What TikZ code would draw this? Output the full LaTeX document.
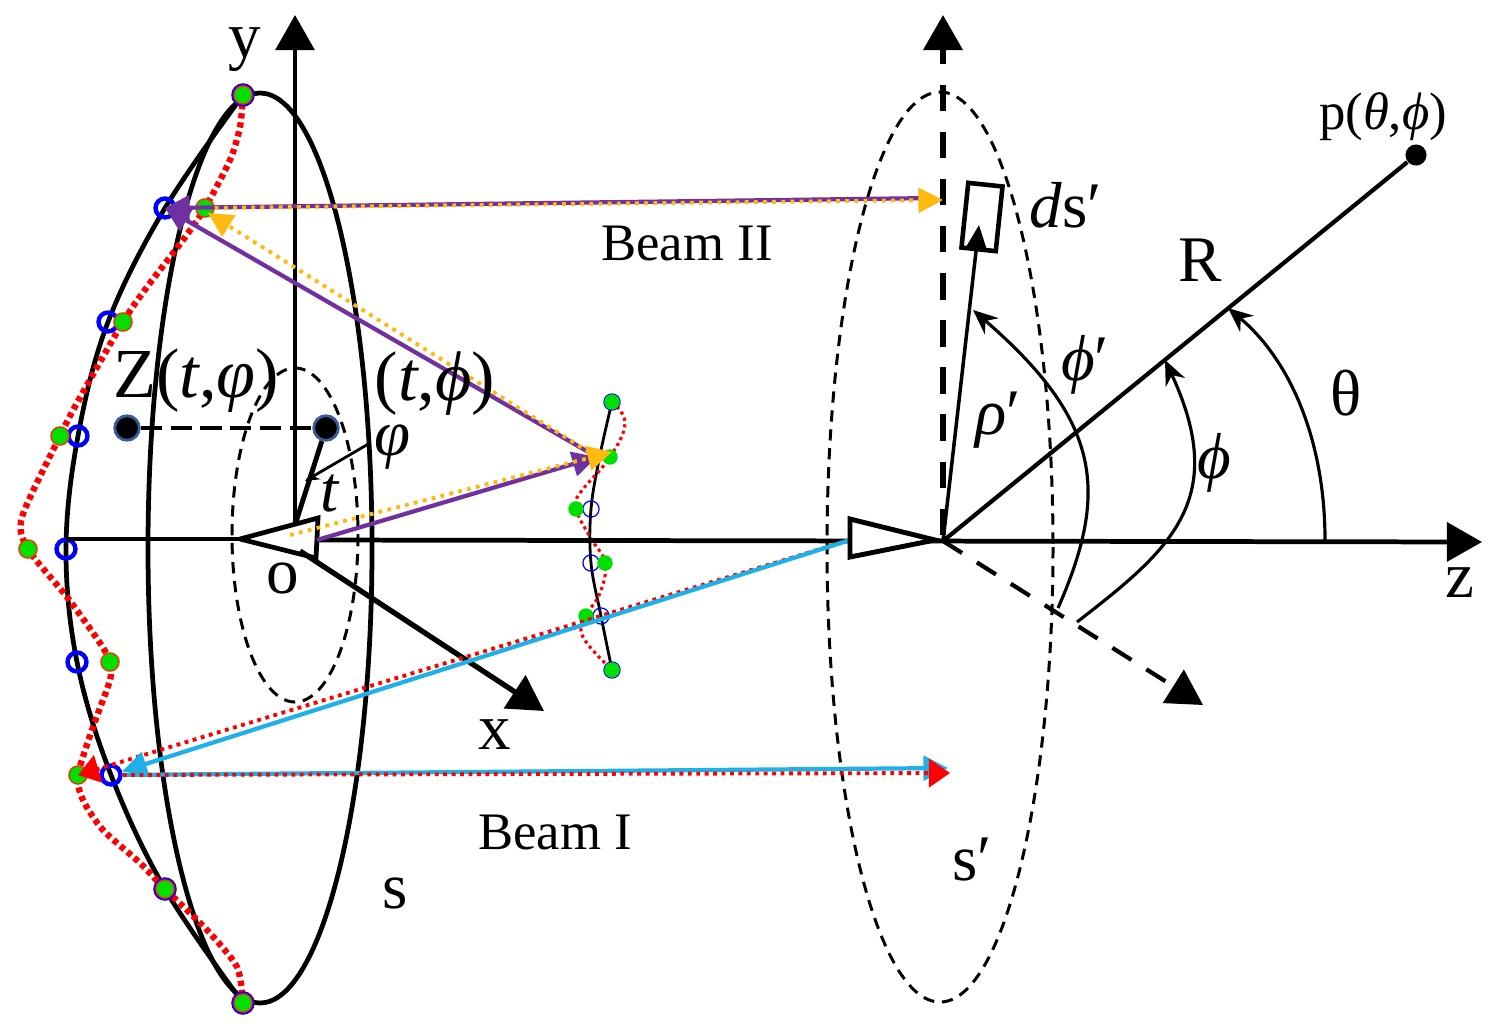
\documentclass[tikz,border=0pt]{standalone}
\usepackage{fontspec}
\setmainfont{Liberation Serif}
\usetikzlibrary{arrows.meta,backgrounds}
\definecolor{beampurple}{HTML}{7030A0}
\definecolor{beamorange}{HTML}{FFB90F}
\definecolor{beamcyan}{HTML}{1FB0E8}
\definecolor{dotgreen}{HTML}{00E000}
\definecolor{dotring}{HTML}{3A5A9A}
\tikzset{
  greendot/.style={circle,inner sep=0pt,minimum size=5.2pt,fill=dotgreen,draw=red!70!orange,line width=0.35pt},
  subgreen/.style={circle,inner sep=0pt,minimum size=4.4pt,fill=dotgreen},
  bluering/.style={circle,inner sep=0pt,minimum size=5.4pt,draw=blue,line width=1.25pt},
  subring/.style={circle,inner sep=0pt,minimum size=4.6pt,draw=blue,line width=0.35pt},
  rimring/.style={circle,inner sep=0pt,minimum size=6pt,draw=blue!80!purple,line width=0.7pt},
  blackdot/.style={circle,inner sep=0pt,minimum size=7pt,fill=black,draw=dotring,line width=0.8pt},
  thick line/.style={line width=1.35pt},
  redcurve/.style={red,line width=1.8pt,dash pattern=on 1.5pt off 1.1pt},
  subcurve/.style={red,line width=0.9pt,dash pattern=on 0.9pt off 1pt},
  bigtip/.style={-{Triangle[length=10pt,width=11pt]}},
  purplebeam/.style={beampurple,line width=1.2pt,-{Triangle[length=7pt,width=7pt]}},
  orangebeam/.style={beamorange,line width=1.1pt,dash pattern=on 1.1pt off 1.5pt,-{Triangle[length=7pt,width=7pt]}},
  cyanbeam/.style={beamcyan,line width=1.2pt,-{Triangle[length=7pt,width=7pt]}},
  redbeam/.style={red,line width=1.1pt,dash pattern=on 1.1pt off 1.3pt,-{Triangle[length=6pt,width=8pt]}},
  label/.style={inner sep=0pt,font=\fontsize{15}{18}\selectfont},
  biglabel/.style={inner sep=0pt,font=\fontsize{18.5}{22}\selectfont},
  hugelabel/.style={inner sep=0pt,font=\fontsize{20}{24}\selectfont},
}
\begin{document}
\begin{tikzpicture}[x=0.1mm,y=-0.1mm]
  \useasboundingbox (0,0) rectangle (1500,1029);
  % points of the dish and the feed curve
  \draw
    (243,95) node[rimring] (r0){}
    (165,889) node[rimring] (r7){}
    (243,1003) node[rimring] (r8){}
    (165,208) node[bluering] (b1){}
    (108,322) node[bluering] (b2){}
    (78,436) node[bluering] (b3){}
    (66,549) node[bluering] (b4){}
    (77,662) node[bluering] (b5){}
    (111,775) node[bluering] (b6){}
    (243,95) node[greendot] (g0){}
    (205,208) node[greendot] (g1){}
    (123,322) node[greendot] (g2){}
    (60,436) node[greendot] (g3){}
    (28,549) node[greendot] (g4){}
    (110,662) node[greendot] (g5){}
    (78,775) node[greendot] (g6){}
    (165,889) node[greendot] (g7){}
    (243,1003) node[greendot] (g8){};
  % points of the small reflector
  \draw
    (591,509) node[subring] (c1){}
    (591,563) node[subring] (c2){}
    (601,616) node[subring] (c3){}
    (612,402) node[subring] (c0){}
    (612,670) node[subring] (c4){}
    (612,402) node[subgreen] (s0){}
    (610,457) node[subgreen] (s1){}
    (576,509) node[subgreen] (s2){}
    (605,563) node[subgreen] (s3){}
    (586,616) node[subgreen] (s4){}
    (612,670) node[subgreen] (s5){};
  % named free ends
  \coordinate (ytop) at (295,15);
  \coordinate (ybase) at (295,525);
  \coordinate (zend) at (1482,542);
  \coordinate (zstart) at (66,539);
  \coordinate (xstart) at (300,551);
  \coordinate (xend) at (544,711);
  \coordinate (orig) at (943,541);
  \coordinate (ytwo) at (943,15);
  \coordinate (xtwo) at (1203,705);
  \coordinate (hornin) at (317,540);
  \coordinate (hornapex) at (240,539);
  \coordinate (horntop) at (318,518);
  \coordinate (hornlow) at (316,558);
  \coordinate (twoapex) at (935,540);
  \coordinate (twotop) at (850,519);
  \coordinate (twolow) at (850,557);
  \coordinate (fone) at (597,457);
  \coordinate (fzero) at (290,535);
  \coordinate (ftwo) at (612,452);
  \coordinate (ptwo) at (935,198);
  \coordinate (otwo) at (943,200);
  \coordinate (gtip) at (208,213);
  \coordinate (bone) at (850,540);
  \coordinate (cyanend) at (948,768);
  \coordinate (redend) at (950,773);
  \coordinate (rhoend) at (979,225);
  \begin{scope}[on background layer]
    \draw[thick line] (260,548) ellipse [x radius=112,y radius=455];
    \draw[line width=0.85pt,dash pattern=on 3.2pt off 2.2pt] (295,535) ellipse [x radius=63,y radius=167];
    \draw[line width=0.85pt,dash pattern=on 3.2pt off 2.2pt] (940,547) ellipse [x radius=113,y radius=455];
    \draw[thick line] plot[smooth,tension=0.6] coordinates {(r0) (b1) (b2) (b3) (b4) (b5) (b6) (r7) (r8)};
    \draw[redcurve] plot[smooth,tension=0.45] coordinates {(g0) (240,127) (230,160) (g1) (183,240) (147,287) (g2) (77,403) (g3) (22,517) (g4) (67,597) (100,643) (g5) (110,680) (93,727) (g6) (83,800) (103,830) (140,863) (g7) (207,930) (237,967) (g8)};
    \draw[line width=0.8pt] plot[smooth,tension=0.6] coordinates {(c0) (600,455) (c1) (c2) (c3) (c4)};
    \draw[subcurve] plot[smooth,tension=0.7] coordinates {(s0) (625,423) (s1) (580,493) (s2) (590,537) (s3) (600,593) (s4) (583,637) (s5)};
  \end{scope}
  \draw[bigtip,line width=1.35pt] (ybase) to (ytop);
  \draw[thick line] (zstart) to (hornapex);
  \draw[bigtip,thick line] (hornin) to (zend);
  \draw[bigtip,line width=1.5pt] (xstart) to (xend);
  \draw[thick line] (hornapex) to (horntop) to (hornlow) to (hornapex);
  \draw[bigtip,line width=1.6pt,dash pattern=on 7.5pt off 5.9pt,dash phase=11.7pt] (orig) to (ytwo);
  \draw[bigtip,line width=1.2pt,dash pattern=on 6.4pt off 5pt] (orig) to (xtwo);
  % beam II
  \draw[purplebeam] (ptwo) to (b1.center);
  \draw[purplebeam] (fone) to (b1.center);
  \draw[orangebeam] (fone) to (gtip);
  \draw[orangebeam] (g1) to (otwo);
  \draw[purplebeam] (hornin) to (fone);
  \draw[orangebeam] (fzero) to (ftwo);
  % beam I
  \draw[redbeam] (bone) to (g6.center);
  \draw[cyanbeam] (bone) to (b6);
  \draw[cyanbeam] (b6) to (cyanend);
  \draw[redbeam] (b6) to (redend);
  % second feed
  \draw[line width=1.4pt,fill=white] (twoapex) to (twotop) to (twolow) to cycle;
  % local point and surface patch
  \draw (127,428) node[blackdot] (zp){}
    (326,428) node[blackdot] (tp){}
    (1416,155) node[circle,inner sep=0pt,minimum size=6pt,fill=black] (pp){};
  \draw[line width=1.3pt,dash pattern=on 6pt off 2.5pt] (zp) to (tp);
  \draw[line width=1.4pt] (tp) to (ybase);
  \draw[line width=0.8pt,-{Stealth[length=4pt,width=3.5pt]}] (370,443) to (305,481);
  \draw[line width=1.2pt] (orig) to (pp);
  \draw (982,217) node[draw,rotate=-6,line width=1.3pt,minimum width=9.8pt,minimum height=18.5pt,inner sep=0pt] (patch){};
  \draw[line width=1pt,-{Triangle[length=7pt,width=6pt]}] (orig) to (rhoend);
  % angle arcs
  \draw[line width=0.9pt,-{Stealth[length=7pt,width=6pt]}] (1325,540) .. controls (1325,440) and (1290,360) .. (1228,308);
  \draw[line width=0.9pt,-{Stealth[length=7pt,width=6pt]}] (1077,622) .. controls (1170,550) and (1230,500) .. (1165,360);
  \draw[line width=0.9pt,-{Stealth[length=7pt,width=6pt]}] (1058,608) .. controls (1110,490) and (1100,420) .. (973,310);
  % labels
  \node[biglabel] (ly) at (245,50) {y};
  \node[hugelabel] (lzt) at (196,381) {Z(\textit{t},\textit{φ})};
  \node[hugelabel] (lt) at (435,384) {(\textit{t},\textit{ϕ})};
  \node[biglabel] (lphi) at (392,447) {\textit{φ}};
  \node[biglabel] (ltt) at (330,493) {\textit{t}};
  \node[biglabel] (lo) at (283,578) {o};
  \node[biglabel] (lx) at (495,735) {x};
  \node[label] (lbtwo) at (687,243) {Beam II};
  \node[label] (lbone) at (555,832) {Beam I};
  \node[biglabel] (ls) at (395,893) {s};
  \node[biglabel] (lsp) at (972,860) {s′};
  \node[biglabel] (lds) at (1066,205) {\textit{d}s′};
  \node[biglabel] (lr) at (1200,260) {R};
  \node[biglabel] (lth) at (1346,393) {θ};
  \node[biglabel] (lph) at (1214,463) {\textit{ϕ}};
  \node[biglabel] (lphp) at (1085,365) {\textit{ϕ}′};
  \node[biglabel] (lrho) at (998,420) {\textit{ρ}′};
  \node[label] (lp) at (1383,117) {p(\textit{θ},\textit{ϕ})};
  \node[biglabel] (lz) at (1460,583) {z};
\end{tikzpicture}
\end{document}
